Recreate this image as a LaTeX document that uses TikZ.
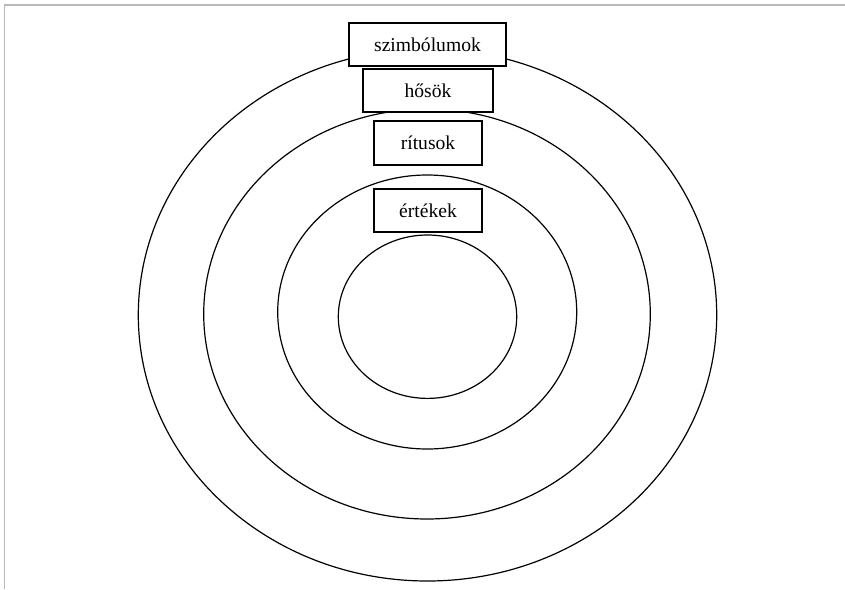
\documentclass[tikz,border=0pt]{standalone}
\usepackage{fontspec}
\setmainfont{Liberation Serif}
\usetikzlibrary{positioning}

\begin{document}
\begin{tikzpicture}[
    x=0.5pt, y=-0.5pt,
    ring/.style={draw, line width=0.6pt},
    layer/.style={rectangle, draw, line width=0.6pt, fill=white, inner sep=0pt,
        minimum height=21.5pt, font=\fontsize{9.8}{12}\selectfont},
]
\useasboundingbox (0,0) rectangle (845,589);
% Frame
\draw[gray!55, line width=0.75pt] (845,5) -- (4.5,5) -- (4.5,589);

% Rings
\draw[ring] (427.5,315) ellipse [x radius=144.6pt, y radius=133pt];
\draw[ring] (427,314) ellipse [x radius=111.65pt, y radius=102.5pt];
\draw[ring] (427.2,312) ellipse [x radius=74.75pt, y radius=68.5pt];
\draw[ring] (427.5,316.7) ellipse [x radius=44.6pt, y radius=40.85pt];

% Labels
\node[layer, minimum width=78.5pt] (szimb) at (427.5,44.5) {szimbólumok};
\node[layer, minimum width=65pt] (hosok) at (428,90.5) {hősök};
\node[layer, minimum width=54pt, minimum height=22pt] (ritus) at (428,143) {rítusok};
\node[layer, minimum width=54pt] (ertek) at (428,210.5) {értékek};

\end{tikzpicture}
\end{document}
